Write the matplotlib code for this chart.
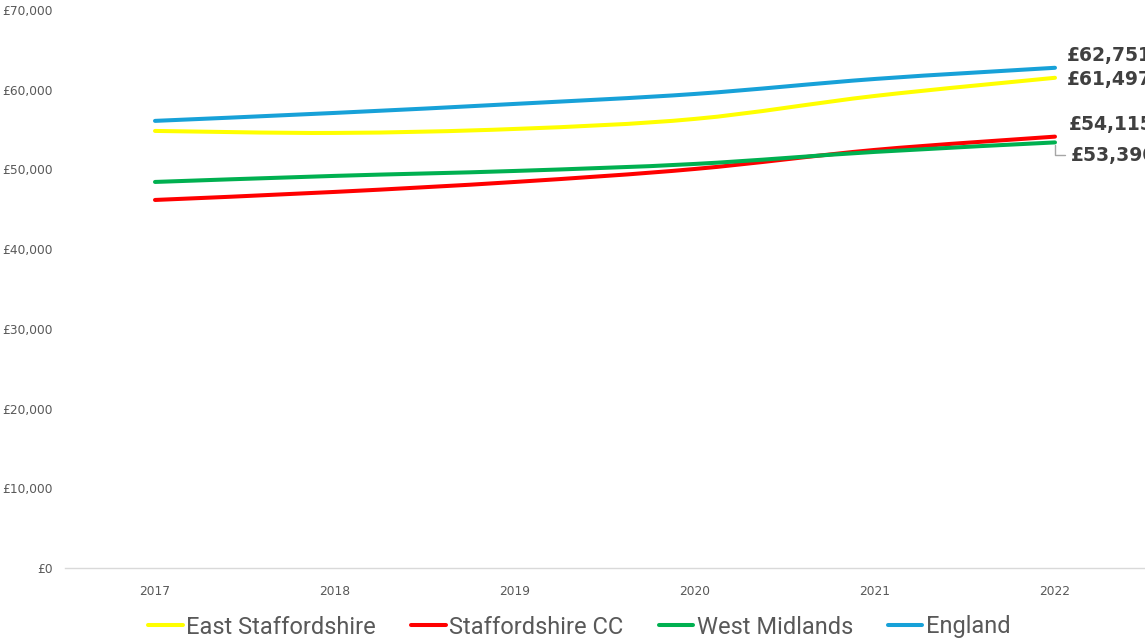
import matplotlib
matplotlib.use("Agg")
import matplotlib.pyplot as plt
from matplotlib.path import Path
from matplotlib.patches import PathPatch
from matplotlib import font_manager

years = ["2017", "2018", "2019", "2020", "2021", "2022"]
east_staffs = [54830, 54580, 55080, 56340, 59220, 61497]
staffs_cc = [46170, 47180, 48430, 50060, 52450, 54115]
west_midlands = [48430, 49190, 49810, 50690, 52200, 53390]
england = [56090, 57090, 58220, 59470, 61350, 62751]
y_ticks = [0, 10000, 20000, 30000, 40000, 50000, 60000, 70000]

series = [
    ("East Staffordshire", east_staffs, "#FFFF00"),
    ("Staffordshire CC", staffs_cc, "#FF0000"),
    ("West Midlands", west_midlands, "#00B050"),
    ("England", england, "#17A1D8"),
]

names = {f.name for f in font_manager.fontManager.ttflist}
legend_font = "Liberation Sans Narrow" if "Liberation Sans Narrow" in names else "Roboto"

fig = plt.figure(figsize=(11.45, 6.41), dpi=100)
ax = fig.add_axes([65 / 1145, 73 / 641, 1080 / 1145, 558 / 641])
ax.set_xlim(-0.5, 5.5)
ax.set_ylim(0, 70000)


def smooth_path(xs, ys):
    pts = list(zip(xs, ys))
    n = len(pts)
    verts = [pts[0]]
    codes = [Path.MOVETO]
    for i in range(n - 1):
        p0 = pts[i - 1] if i > 0 else pts[i]
        p1 = pts[i]
        p2 = pts[i + 1]
        p3 = pts[i + 2] if i + 2 < n else pts[i + 1]
        c1 = (p1[0] + (p2[0] - p0[0]) / 6, p1[1] + (p2[1] - p0[1]) / 6)
        c2 = (p2[0] - (p3[0] - p1[0]) / 6, p2[1] - (p3[1] - p1[1]) / 6)
        verts += [c1, c2, p2]
        codes += [Path.CURVE4] * 3
    return Path(verts, codes)


xs = list(range(len(years)))
handles = []
for name, vals, col in series:
    patch = PathPatch(smooth_path(xs, vals), facecolor="none", edgecolor=col,
                      lw=2.9, capstyle="round", joinstyle="round")
    ax.add_patch(patch)
    h, = ax.plot([], [], color=col, lw=2.9, solid_capstyle="round", label=name)
    handles.append(h)

for s in ["top", "right", "left"]:
    ax.spines[s].set_visible(False)
ax.spines["bottom"].set_color("#D9D9D9")
ax.spines["bottom"].set_linewidth(1.0)

ax.set_xticks(xs)
ax.set_xticklabels(years)
ax.set_yticks(y_ticks)
ax.set_yticklabels([f"£{v:,}" for v in y_ticks])
ax.tick_params(axis="both", length=0, labelsize=8.8, labelcolor="#595959")
ax.tick_params(axis="y", pad=9)
ax.tick_params(axis="x", pad=12)

label_style = dict(fontsize=13.5, fontweight="bold", color="#404040",
                   ha="left", va="center", textcoords="offset pixels",
                   annotation_clip=False)
last = len(years) - 1
ax.annotate(f"£{england[-1]:,}", (last, england[-1]), xytext=(12, 12), **label_style)
ax.annotate(f"£{east_staffs[-1]:,}", (last, east_staffs[-1]), xytext=(12, -2), **label_style)
ax.annotate(f"£{staffs_cc[-1]:,}", (last, staffs_cc[-1]), xytext=(14, 12), **label_style)
ax.annotate(f"£{west_midlands[-1]:,}", (last, west_midlands[-1]), xytext=(16, -13),
            arrowprops=dict(arrowstyle="-", color="#A6A6A6", lw=1,
                            connectionstyle="angle,angleA=0,angleB=90,rad=0",
                            relpos=(0, 0.5), shrinkA=2, shrinkB=2),
            **label_style)

fig.legend(handles=handles, loc="center", bbox_to_anchor=(0.5 + 7 / 1145, 1 - 627 / 641),
           ncol=4, frameon=False, handlelength=1.45, handletextpad=0.15,
           columnspacing=1.5, prop={"family": legend_font, "size": 17},
           labelcolor="#595959")

fig.savefig("out.png", dpi=100)
